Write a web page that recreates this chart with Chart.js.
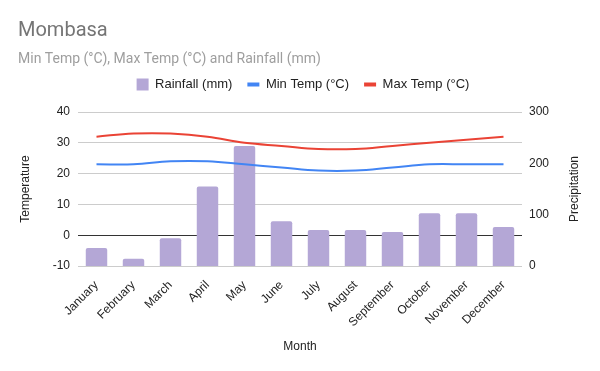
<!DOCTYPE html>
<html>
<head>
<meta charset="utf-8">
<style>
  body { margin: 0; background: #fff; }
</style>
</head>
<body>
<div style="width:600px;height:371px">
    <canvas id="myChart" width="600" height="371"></canvas>
</div>

<script src="https://cdn.jsdelivr.net/npm/chart.js"></script>

<script>
    // data
    var months = ['January', 'February', 'March', 'April', 'May', 'June',
        'July', 'August', 'September', 'October', 'November', 'December'];
    var rainfall = [35, 14, 54, 155, 234, 87, 70, 70, 66, 103, 103, 76];
    var minTemp = [23, 23, 24, 24, 23, 22, 21, 21, 22, 23, 23, 23];
    var maxTemp = [32, 33, 33, 32, 30, 29, 28, 28, 29, 30, 31, 32];
    var tempTicks = [-10, 0, 10, 20, 30, 40];
    var rainTicks = [0, 100, 200, 300];

    var FONT = '"Liberation Sans", Arial, sans-serif';
    var tickFont = { family: FONT, size: 12 };

    // title, subtitle and right axis title (reads bottom to top like the left one)
    var textPlugin = {
        id: 'textPlugin',
        afterDraw: function (chart) {
            var ctx = chart.ctx;
            ctx.save();
            ctx.textBaseline = 'middle';
            ctx.textAlign = 'left';
            ctx.fillStyle = '#757575';
            ctx.font = '20px Roboto, sans-serif';
            ctx.fillText('Mombasa', 18, 31);
            ctx.fillStyle = '#9e9e9e';
            ctx.font = '14px Roboto, sans-serif';
            ctx.fillText('Min Temp (°C), Max Temp (°C) and Rainfall (mm)', 18, 59);

            ctx.fillStyle = '#222';
            ctx.font = '12px ' + FONT;
            ctx.textAlign = 'center';
            ctx.translate(575, (chart.chartArea.top + chart.chartArea.bottom) / 2);
            ctx.rotate(-Math.PI / 2);
            ctx.fillText('Precipitation', 0, 0);
            ctx.restore();
        }
    };

    // legend leaves a gap below it and sits a touch right of centre
    var legendPlugin = {
        id: 'legendPlugin',
        beforeInit: function (chart) {
            var fit = chart.legend.fit;
            chart.legend.fit = function () {
                fit.bind(chart.legend)();
                this.height += 11;
            };
        },
        afterLayout: function (chart) {
            chart.legend.left += 3;
            chart.legend.right += 3;
        }
    };

    const ctx = document.getElementById('myChart');

    new Chart(ctx, {
        data: {
            labels: months,
            datasets: [{
                type: 'bar',
                label: 'Rainfall (mm)',
                data: rainfall,
                yAxisID: 'yRain',
                backgroundColor: '#b4a7d6',
                borderWidth: 0,
                borderRadius: 2,
                borderSkipped: 'bottom',
                barPercentage: 0.58,
                categoryPercentage: 1,
                pointStyle: 'rect',
                order: 3
            }, {
                type: 'line',
                label: 'Min Temp (°C)',
                data: minTemp,
                yAxisID: 'yTemp',
                borderColor: '#4285f4',
                backgroundColor: '#4285f4',
                borderWidth: 2,
                pointRadius: 0,
                tension: 0.4,
                pointStyle: 'line',
                order: 1
            }, {
                type: 'line',
                label: 'Max Temp (°C)',
                data: maxTemp,
                yAxisID: 'yTemp',
                borderColor: '#ea4335',
                backgroundColor: '#ea4335',
                borderWidth: 2,
                pointRadius: 0,
                tension: 0.4,
                pointStyle: 'line',
                order: 2
            }]
        },
        options: {
            responsive: false,
            animation: false,
            layout: { padding: { top: 63, left: 0, right: 0, bottom: 0 } },
            scales: {
                x: {
                    grid: { display: false },
                    border: { display: false },
                    ticks: {
                        color: '#222', font: tickFont,
                        minRotation: 45, maxRotation: 45, padding: 4
                    },
                    title: {
                        display: true, text: 'Month', color: '#222',
                        font: tickFont, padding: { top: 0, bottom: 17 }
                    },
                    afterFit: function (scale) { scale.height = 105; }
                },
                yTemp: {
                    position: 'left',
                    min: -10, max: 40,
                    afterBuildTicks: function (scale) {
                        scale.ticks = tempTicks.map(function (v) { return { value: v }; });
                    },
                    grid: {
                        drawTicks: false,
                        color: function (c) { return c.tick && c.tick.value === 0 ? '#333' : '#ccc'; },
                        lineWidth: 1
                    },
                    border: { display: false },
                    ticks: { color: '#222', font: tickFont, padding: 8 },
                    title: {
                        display: true, text: 'Temperature', color: '#222',
                        font: tickFont, padding: { top: 18, bottom: 0 }
                    },
                    afterFit: function (scale) { scale.width = 78; }
                },
                yRain: {
                    position: 'right',
                    min: 0, max: 300,
                    afterBuildTicks: function (scale) {
                        scale.ticks = rainTicks.map(function (v) { return { value: v }; });
                    },
                    grid: { display: false, drawTicks: false },
                    border: { display: false },
                    ticks: { color: '#222', font: tickFont, padding: 7 },
                    afterFit: function (scale) { scale.width = 78; }
                }
            },
            plugins: {
                legend: {
                    position: 'top',
                    labels: {
                        color: '#222',
                        font: { family: FONT, size: 13 },
                        usePointStyle: true,
                        pointStyleWidth: 12,
                        boxHeight: 12,
                        padding: 15,
                        sort: function (a, b) { return a.datasetIndex - b.datasetIndex; },
                        generateLabels: function (chart) {
                            var items = Chart.defaults.plugins.legend.labels.generateLabels(chart);
                            items.forEach(function (it) {
                                if (it.pointStyle === 'line') it.lineWidth = 4;
                            });
                            return items;
                        }
                    }
                },
                tooltip: { enabled: false }
            }
        },
        plugins: [textPlugin, legendPlugin]
    });
</script>
</body>
</html>
